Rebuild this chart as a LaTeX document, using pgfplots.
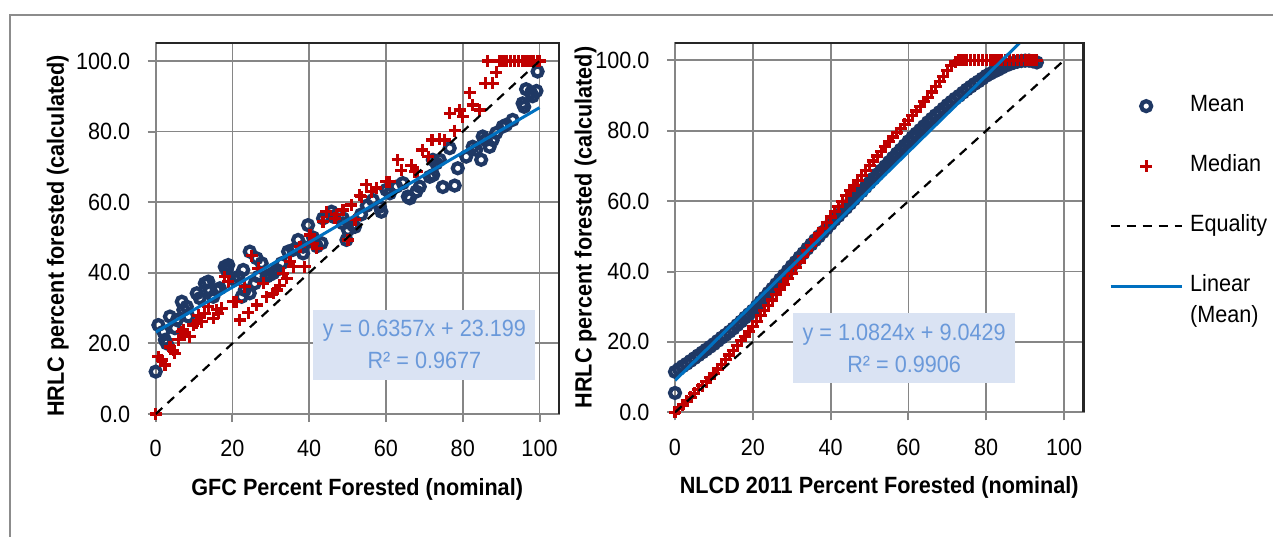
\documentclass[border=0pt]{standalone}
\usepackage{pgfplots}
\pgfplotsset{compat=1.18}
\usepackage{fontspec}
\setmainfont{Liberation Sans}[FakeStretch=0.92]
\definecolor{meanblue}{RGB}{31,56,100}
\definecolor{medred}{RGB}{192,0,0}
\definecolor{trendblue}{RGB}{0,112,192}
\definecolor{gridgray}{RGB}{134,134,134}
\definecolor{outergray}{RGB}{140,140,140}
\definecolor{framedark}{RGB}{38,38,38}
\definecolor{eqfill}{RGB}{218,227,243}
\definecolor{eqtext}{RGB}{106,153,218}
\newcommand{\fs}{\fontsize{23.5pt}{28pt}\selectfont}
\newcommand{\feq}{\fontsize{23.5pt}{32pt}\selectfont}
\tikzset{eqbox/.style={fill=eqfill, inner sep=0pt, minimum width=222pt, minimum height=70pt, align=center, text=eqtext, font=\feq}}
\pgfplotsset{
 myax/.style={
  scale only axis,
  xmin=0,xmax=105,ymin=0,ymax=105,
  xtick={0,20,...,100}, ytick={0,20,...,100},
  tick pos=left, tick align=outside, major tick length=8pt,
  tick style={gridgray, line width=2pt},
  grid=major, grid style={gridgray, line width=1.8pt},
  axis line style={gridgray, line width=2.2pt},
  /pgf/number format/assume math mode=true,
  ticklabel style={font=\fs},
  xticklabel style={yshift=-15pt},
  yticklabel style={xshift=-14pt, /pgf/number format/fixed, /pgf/number format/fixed zerofill, /pgf/number format/precision=1},
  label style={font=\fs\bfseries},
  clip mode=individual,
  after end axis/.code={\draw[framedark, line width=2.2pt] (rel axis cs:0,1) -- (rel axis cs:1,1) -- (rel axis cs:1,0);},
 },
 meanst/.style={only marks, mark=o, mark size=5pt, mark options={draw=meanblue, line width=4.2pt}},
 medst/.style={only marks, mark=+, mark size=6pt, mark options={draw=medred, line width=3.2pt}},
 eqst/.style={black, line width=2.2pt, dash pattern=on 9pt off 7pt, no marks},
 trst/.style={trendblue, line width=3pt, no marks},
}
\begin{document}
\begin{tikzpicture}[x=1pt,y=1pt]
\draw[outergray, line width=2pt] (10,-20) -- (10,521) -- (1300,521);

\begin{axis}[myax, at={(155.7pt,122pt)}, anchor=south west, width=403pt, height=370.7pt,
  xlabel={GFC Percent Forested (nominal)},
  ylabel={HRLC percent forested (calculated)},
  xlabel style={at={(axis description cs:0.5,-0.2185)}, anchor=base},
  ylabel style={at={(axis description cs:-0.228,0.48)}, anchor=base}]
\addplot[meanst] coordinates {
(0,12) (0.7,25.2) (2,23.3) (2.4,21) (2.9,20) (3.7,27.6) (5,24.3) (5.5,26.6) (6.8,31.8) (7.2,29.5)
(8.1,30.4) (8.5,27.6) (10.7,34.2) (11.5,32.8) (12.8,37) (13.7,37.5) (14.1,35.1) (15,33.2) (15.9,35.1) (16.7,35.6)
(18,41.7) (18.5,40.8) (18.9,42.2) (20.6,38) (21.5,38.9) (22.4,33.2) (22.8,40.8) (23.2,35.1) (24.5,46) (24.5,34.2)
(25.8,37) (26.3,44.1) (26.8,38.9) (27.6,42.7) (28.9,38.9) (29.7,39.4) (30.6,39.9) (31.5,40.8) (32.8,42.7) (34.5,46)
(35.8,46.5) (37.1,49.3) (38.4,47.4) (38.4,45.5) (39.7,53.5) (41,50) (42,47.5) (43.2,48.4) (43.6,55.4) (45.8,57.3)
(46.2,55.9) (48.8,55.4) (48.8,54) (49.7,49.3) (50.1,52.1) (51.4,53.5) (51.9,53) (53.5,56.5) (55,59) (56.6,60.6)
(58.4,58.7) (58.8,57.3) (60.1,63.5) (61,62.5) (62.7,64.4) (64.4,65.4) (65.7,61.6) (66.2,61.1) (67.9,63) (68.8,64.4)
(71.4,67.2) (72.3,67.7) (72.2,72) (73.1,71) (74,72) (74.8,64.3) (76.6,75.3) (77.9,64.7) (78.7,69.6) (80.9,72.9)
(82.6,75.7) (83.5,74.8) (84.8,72) (85.2,78.6) (86,77.6) (87,75.7) (87.8,77.6) (88.7,79.6) (90.4,81.4) (91.3,81.9)
(93,83.3) (95.6,88) (96,87) (96.5,92) (97.8,91) (98.2,90) (99.2,91.5) (99.5,97)
};
\addplot[medst] coordinates {
(0,0) (0.7,16.2) (1.6,15.3) (2.4,13.9) (3.7,19) (4.6,18.1) (5,17.2) (5.9,21) (6.8,23.3) (7.6,22.4)
(8.9,21.9) (7.2,23.8) (9.8,25.2) (10.7,25.7) (12,26.1) (11.1,28) (12.8,28.5) (15,27.1) (16.3,28.5) (17.2,29.9)
(13.7,30.4) (15.9,29.5) (18,38.9) (18.9,37.5) (20.2,31.8) (21.1,31.8) (21.9,26.6) (24.1,28.7) (26.3,30.9) (23.2,36.1)
(25,44.8) (26.7,41.3) (28,37) (28.9,33.2) (30.6,34.2) (31.5,35.1) (32.3,36.5) (33.2,39.9) (34.1,38.4) (35,43.1)
(35.8,41.7) (38.8,41.7) (37.6,47.4) (40.2,50.7) (41.9,46.9) (41,48.4) (43.6,54.5) (44.5,57.3) (46.7,55.4) (47.1,56.4)
(48.8,57.8) (51,59.2) (50.1,49.3) (53.2,62) (54.9,64.9) (51.9,55) (53.6,61.6) (56.2,63) (57.5,64) (60.1,65.8)
(61,65.8) (63,72) (64,69) (66.6,70.5) (67.5,68.6) (68.2,68.6) (69.5,74.8) (71,72.9) (72,77.6) (74,77.8)
(75.3,77.6) (77.9,80.3) (76.6,85.2) (79.2,86.1) (80,84.2) (82.6,87.5) (84.4,86.1) (81.8,91) (85.9,93.7) (87.8,93.7)
(88.7,96.8) (86.5,100) (89.5,100) (90.5,100) (91.5,100) (92.5,100) (93.5,100) (94.5,100) (95.5,100) (96.5,100)
(97.5,100) (98.5,100) (99.5,100) (100,100)
};
\addplot[eqst] coordinates {(0,0) (100,100)};
\addplot[trst] coordinates {(0,23.199) (100,86.769)};
\node[eqbox] at (axis cs:70,19.6) {y = 0.6357x + 23.199\\R² = 0.9677};
\end{axis}

\begin{axis}[myax, at={(675pt,123.7pt)}, anchor=south west, width=408.5pt, height=369.6pt,
  xlabel={NLCD 2011 Percent Forested (nominal)},
  ylabel={HRLC percent forested (calculated)},
  xlabel style={at={(axis description cs:0.5,-0.2192)}, anchor=base},
  ylabel style={at={(axis description cs:-0.2039,0.5)}, anchor=base},
  legend style={at={(1.0624,0.86)}, anchor=north west, draw=none, fill=none, inner sep=0pt,
    font=\fs, row sep=37pt, column sep=7pt,
    nodes={inner sep=0pt, text height=17pt, text depth=6pt}, cells={anchor=west}},
  legend image code/.code={\draw[mark repeat=2,mark phase=2,#1] plot coordinates {(0pt,0pt) (35.5pt,0pt) (71pt,0pt)};}]
\addplot[meanst] coordinates {
(0,5.5) (0,11.5) (1,12.3) (2,13.1) (3,13.8) (4,14.6) (5,15.4) (6,16.2) (7,17.0) (8,17.8) (9,18.6)
(10,19.4) (11,20.3) (12,21.2) (13,22.0) (14,22.9) (15,23.8) (16,24.8) (17,25.8) (18,26.9) (19,27.9)
(20,28.9) (21,30.1) (22,31.4) (23,32.6) (24,33.9) (25,35.1) (26,36.4) (27,37.7) (28,38.9) (29,40.2)
(30,41.5) (31,42.7) (32,44.0) (33,45.2) (34,46.5) (35,47.7) (36,48.9) (37,50.0) (38,51.2) (39,52.3)
(40,53.5) (41,54.7) (42,55.8) (43,57.0) (44,58.1) (45,59.3) (46,60.5) (47,61.7) (48,62.8) (49,64.0)
(50,65.2) (51,66.4) (52,67.6) (53,68.7) (54,69.9) (55,71.1) (56,72.3) (57,73.5) (58,74.6) (59,75.8)
(60,77.0) (61,78.1) (62,79.2) (63,80.2) (64,81.3) (65,82.4) (66,83.4) (67,84.4) (68,85.3) (69,86.3)
(70,87.3) (71,88.2) (72,89.1) (73,89.9) (74,90.8) (75,91.7) (76,92.5) (77,93.3) (78,94.0) (79,94.8)
(80,95.6) (81,96.2) (82,96.8) (83,97.3) (84,97.9) (85,98.5) (86,98.9) (87,99.3) (88,99.6) (89,99.8)
(90,99.9) (91,99.9) (92,99.7) (93,99.4)
};
\addlegendentry{Mean}
\addplot[medst] coordinates {
(0,0) (1,1.0) (2,2.1) (3,3.2) (4,4.3) (5,5.4) (6,6.5) (7,7.6) (8,8.7) (9,9.8)
(10,11.0) (11,12.3) (12,13.6) (13,15.0) (14,16.3) (15,17.6) (16,19.0) (17,20.3) (18,21.6) (19,23.0)
(20,24.4) (21,25.9) (22,27.4) (23,28.9) (24,30.4) (25,31.9) (26,33.4) (27,34.9) (28,36.4) (29,37.9)
(30,39.5) (31,41.1) (32,42.7) (33,44.3) (34,45.9) (35,47.5) (36,49.1) (37,50.7) (38,52.3) (39,53.9)
(40,55.5) (41,57.0) (42,58.5) (43,60.0) (44,61.5) (45,63.0) (46,64.4) (47,65.8) (48,67.2) (49,68.6)
(50,70.0) (51,71.4) (52,72.8) (53,74.2) (54,75.6) (55,77.0) (56,78.2) (57,79.4) (58,80.6) (59,81.8)
(60,83.0) (61,84.3) (62,85.6) (63,86.9) (64,88.2) (65,89.5) (66,91.0) (67,92.5) (68,94.0) (69,95.5)
(70,97.0) (71,98.5) (72,99.5) (73,100) (74,100) (75,100) (76,100) (77,100) (78,100) (79,100)
(80,100) (81,100) (82,100) (83,100) (84,100) (85,100) (86,100) (87,100) (88,100) (89,100)
(90,100) (91,100) (92,100) (93,100)
};
\addlegendentry{Median}
\addplot[eqst] coordinates {(0,0) (100,100)};
\addlegendentry{Equality}
\addplot[trst] coordinates {(0,9.0429) (93,109.7061)};
\addlegendentry{\begin{tabular}[t]{@{}l@{}}Linear\\[3pt](Mean)\end{tabular}}
\node[eqbox] at (axis cs:58.9,18.2) {y = 1.0824x + 9.0429\\R² = 0.9906};
\end{axis}
\pgfresetboundingbox
\useasboundingbox (0,0) rectangle (1273,536);
\end{tikzpicture}
\end{document}
